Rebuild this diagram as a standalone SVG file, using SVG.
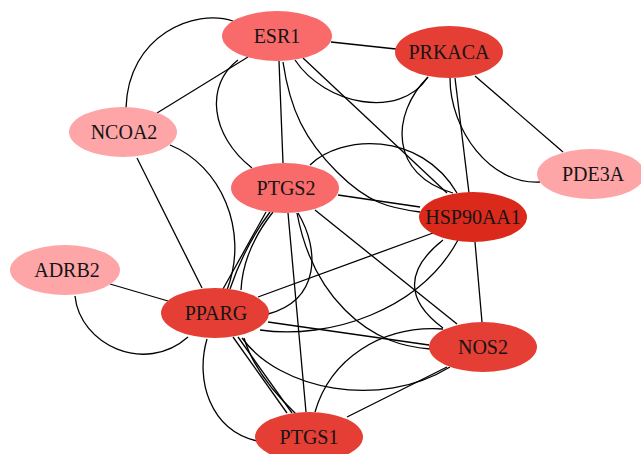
<svg xmlns="http://www.w3.org/2000/svg" width="641" height="454" viewBox="0 0 641 454">
<style>
.e{fill:none;stroke:#000;stroke-width:1.3}
.n text{font-family:"Liberation Serif","Times New Roman",serif;font-size:20px;fill:#141414;text-anchor:middle}
.c1{fill:#fea5a8}
.c2{fill:#f96a6a}
.c3{fill:#e53e34}
.c4{fill:#db2a1c}
</style>
<rect width="641" height="454" fill="#fff"/>
<g id="connectors">
<path class="e" d="M248,57 L157,113"/>
<path class="e" d="M233,21 C195,8 128,35 126,108"/>
<path class="e" d="M279,61 L283,163"/>
<path class="e" d="M238,60 C205,85 210,135 252,168"/>
<path class="e" d="M331,42 L396,49"/>
<path class="e" d="M295,60 C325,105 400,120 428,77"/>
<path class="e" d="M303,58 L447,193"/>
<path class="e" d="M283,62 C290,110 305,140 337,172 S390,208 420,212"/>
<path class="e" d="M475,76 L563,152"/>
<path class="e" d="M450,78 C450,130 490,185 540,182"/>
<path class="e" d="M455,78 L469,193"/>
<path class="e" d="M428,77 C390,115 390,175 453,193"/>
<path class="e" d="M338,195 L420,207"/>
<path class="e" d="M310,165 C340,135 420,130 457,193"/>
<path class="e" d="M315,210 L457,324"/>
<path class="e" d="M297,213 C303,245 315,280 345,310 S405,347 430,349"/>
<path class="e" d="M266,212 L223,289"/>
<path class="e" d="M270,212 Q245,245 230,289"/>
<path class="e" d="M273,212 Q243,250 241,290"/>
<path class="e" d="M298,213 C320,250 320,300 268,314"/>
<path class="e" d="M258,297 L433,233"/>
<path class="e" d="M260,330 C330,340 420,310 458,240"/>
<path class="e" d="M475,242 L482,322"/>
<path class="e" d="M443,240 C405,270 405,300 443,328"/>
<path class="e" d="M268,322 L429,345"/>
<path class="e" d="M242,338 C280,390 380,410 450,367"/>
<path class="e" d="M233,337 L287,413"/>
<path class="e" d="M238,337 L292,413"/>
<path class="e" d="M244,338 Q255,375 296,414"/>
<path class="e" d="M207,339 C195,380 210,430 257,441"/>
<path class="e" d="M288,213 L306,412"/>
<path class="e" d="M315,412 C330,360 380,325 443,329"/>
<path class="e" d="M347,417 L447,367"/>
<path class="e" d="M110,284 L168,301"/>
<path class="e" d="M75,296 C80,345 145,375 188,337"/>
<path class="e" d="M137,158 L202,288"/>
<path class="e" d="M170,145 C220,165 250,230 227,290"/>
</g>
<g id="node-ESR1" class="n"><ellipse class="c2" cx="277" cy="36" rx="55" ry="25"/><text x="277" y="43">ESR1</text></g>
<g id="node-PRKACA" class="n"><ellipse class="c3" cx="449" cy="52" rx="54" ry="26"/><text x="449" y="59">PRKACA</text></g>
<g id="node-NCOA2" class="n"><ellipse class="c1" cx="123" cy="132" rx="54" ry="25"/><text x="124" y="139">NCOA2</text></g>
<g id="node-PTGS2" class="n"><ellipse class="c2" cx="285" cy="188" rx="54" ry="25"/><text x="286" y="195">PTGS2</text></g>
<g id="node-PDE3A" class="n"><ellipse class="c1" cx="591" cy="174" rx="54" ry="25"/><text x="593" y="181">PDE3A</text></g>
<g id="node-HSP90AA1" class="n"><ellipse class="c4" cx="473" cy="217" rx="54" ry="25"/><text x="473" y="224">HSP90AA1</text></g>
<g id="node-ADRB2" class="n"><ellipse class="c1" cx="65" cy="270" rx="55" ry="25"/><text x="67" y="277">ADRB2</text></g>
<g id="node-PPARG" class="n"><ellipse class="c3" cx="215" cy="313" rx="54" ry="25"/><text x="216" y="320">PPARG</text></g>
<g id="node-NOS2" class="n"><ellipse class="c3" cx="483" cy="347" rx="54" ry="25"/><text x="483" y="354">NOS2</text></g>
<g id="node-PTGS1" class="n"><ellipse class="c3" cx="309" cy="437" rx="54" ry="25"/><text x="309" y="444">PTGS1</text></g>
</svg>
